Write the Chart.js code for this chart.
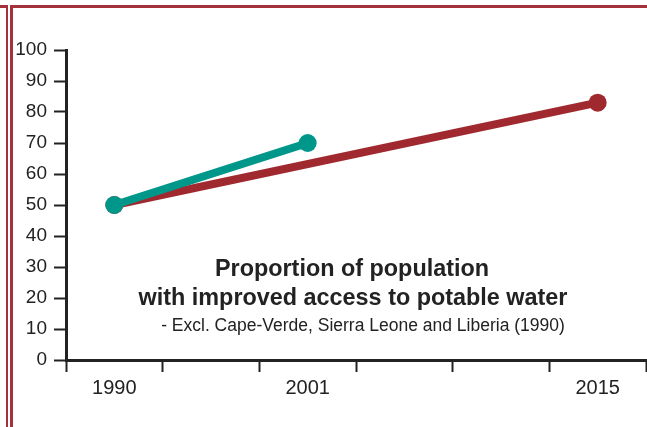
<!DOCTYPE html>
<html>
<head>
<meta charset="utf-8">
<script src="https://cdn.jsdelivr.net/npm/chart.js@4/dist/chart.umd.min.js"></script>
<style>
  html, body { margin: 0; padding: 0; background: #fff; }
  #wrap { position: relative; width: 647px; height: 427px; overflow: hidden; }
  #chart { position: absolute; left: 0; top: 0; }
  .rule { position: absolute; background: #a5323a; }
</style>
</head>
<body>
<div id="wrap">
  <canvas id="chart" width="647" height="427"></canvas>
  <div class="rule" style="left:0; top:5px; width:8px; height:3px;"></div>
  <div class="rule" style="left:10px; top:5px; right:0; height:3px;"></div>
  <div class="rule" style="left:5.5px; top:5px; width:2.5px; bottom:0;"></div>
  <div class="rule" style="left:10px; top:5px; width:2.5px; bottom:0;"></div>
</div>
<script>
// x slots, only three carry a year
const YEARS = ['1990', '', '2001', '', '', '2015'];
// whole region
const REGION_ALL = [50, null, null, null, null, 83];
// excluding Cape-Verde, Sierra Leone and Liberia
const REGION_EXCL = [50, null, 70, null, null, null];
const Y_MIN = 0;
const Y_MAX = 100;
const Y_STEP = 10;

const TITLE_LINES = ['Proportion of population', 'with improved access to potable water'];
const NOTE_LINE = '- Excl. Cape-Verde, Sierra Leone and Liberia (1990)';

const RED = '#a0292f';
const TEAL = '#00978b';
const INK = '#222222';
const FONT = '"Liberation Sans", Arial, Helvetica, sans-serif';

// title written inside the plot
const innerTitle = {
  id: 'innerTitle',
  afterDraw(chart) {
    const ctx = chart.ctx;
    ctx.save();
    ctx.fillStyle = INK;
    ctx.textAlign = 'center';
    ctx.textBaseline = 'alphabetic';
    ctx.font = 'bold 23.4px ' + FONT;
    ctx.fillText(TITLE_LINES[0], 352, 276);
    ctx.fillText(TITLE_LINES[1], 353, 305);
    ctx.font = '17.5px ' + FONT;
    ctx.fillText(NOTE_LINE, 363, 331);
    ctx.restore();
  }
};

new Chart(document.getElementById('chart'), {
  type: 'line',
  data: {
    labels: YEARS,
    datasets: [
      {
        label: 'Excl. Cape-Verde, Sierra Leone and Liberia',
        data: REGION_EXCL,
        borderColor: TEAL,
        backgroundColor: TEAL,
        borderWidth: 8,
        pointRadius: 9,
        pointHoverRadius: 9,
        pointBorderWidth: 0,
        spanGaps: true
      },
      {
        label: 'All',
        data: REGION_ALL,
        borderColor: RED,
        backgroundColor: RED,
        borderWidth: 8,
        pointRadius: 9,
        pointHoverRadius: 9,
        pointBorderWidth: 0,
        spanGaps: true
      }
    ]
  },
  options: {
    responsive: false,
    animation: false,
    layout: { autoPadding: false, padding: { top: 50, right: 1, left: 0, bottom: 0 } },
    plugins: {
      legend: { display: false },
      tooltip: { enabled: false }
    },
    scales: {
      x: {
        type: 'category',
        offset: true,
        afterFit: s => { s.height = 67; s.paddingLeft = 0; s.paddingRight = 0; },
        grid: {
          offset: true,
          drawOnChartArea: false,
          drawTicks: true,
          tickLength: 12,
          tickWidth: 2,
          tickColor: INK
        },
        border: { color: INK, width: 3 },
        ticks: {
          color: INK,
          font: { family: FONT, size: 20 },
          padding: 4,
          autoSkip: false,
          maxRotation: 0
        }
      },
      y: {
        min: Y_MIN,
        max: Y_MAX,
        afterFit: s => { s.width = 66; s.paddingTop = 0; s.paddingBottom = 0; },
        grid: {
          drawOnChartArea: false,
          drawTicks: true,
          tickLength: 12,
          tickWidth: 2,
          tickColor: INK
        },
        border: { color: INK, width: 3 },
        ticks: {
          stepSize: Y_STEP,
          color: INK,
          font: { family: FONT, size: 19 },
          padding: 7
        }
      }
    }
  },
  plugins: [innerTitle]
});
</script>
</body>
</html>
